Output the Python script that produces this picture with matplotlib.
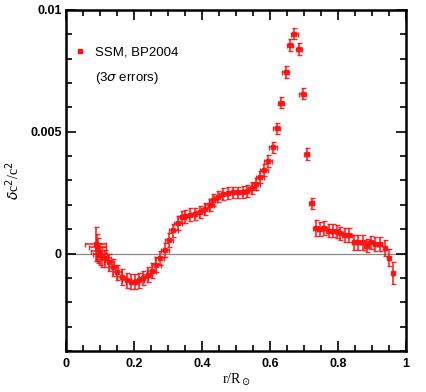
import numpy as np
import matplotlib
matplotlib.use('Agg')
import matplotlib.pyplot as plt
from matplotlib.lines import Line2D
from matplotlib.ticker import MultipleLocator, FixedFormatter, FixedLocator

# 반지름 (r/R_sun)
r = [0.087, 0.092, 0.095, 0.100, 0.105, 0.115, 0.127, 0.139, 0.151, 0.164,
     0.178, 0.190, 0.203, 0.216, 0.227, 0.240, 0.252, 0.265, 0.276, 0.291,
     0.303, 0.316, 0.330, 0.340, 0.350, 0.365, 0.379, 0.394, 0.409, 0.422,
     0.433, 0.446, 0.461, 0.475, 0.490, 0.505, 0.520, 0.533, 0.546, 0.559,
     0.570, 0.582, 0.595, 0.608, 0.620, 0.632, 0.646, 0.659, 0.671, 0.685,
     0.696, 0.708, 0.722, 0.734, 0.747, 0.759, 0.774, 0.786, 0.798, 0.806,
     0.821, 0.833, 0.848, 0.860, 0.873, 0.884, 0.897, 0.909, 0.924, 0.938,
     0.950, 0.963]

# delta c^2 / c^2 (단위 1e-3)
dc2 = [0.40, 0.26, 0.12, 0.00, -0.15, -0.20, -0.36, -0.56, -0.77, -0.97,
       -1.10, -1.15, -1.15, -1.10, -1.00, -0.87, -0.70, -0.46, -0.18, 0.14,
       0.56, 0.95, 1.26, 1.50, 1.53, 1.60, 1.63, 1.70, 1.83, 2.00,
       2.20, 2.34, 2.45, 2.49, 2.51, 2.51, 2.54, 2.58, 2.70, 2.86,
       3.13, 3.43, 3.80, 4.36, 5.14, 6.20, 7.46, 8.57, 9.03, 8.39,
       6.57, 4.09, 2.06, 1.05, 1.01, 1.05, 0.94, 0.94, 0.91, 0.83,
       0.76, 0.76, 0.46, 0.46, 0.46, 0.33, 0.46, 0.40, 0.40, 0.23,
       -0.18, -0.80]

# 오차 (3 sigma)
r_err = [0.030, 0.025, 0.022, 0.020, 0.018, 0.016, 0.015, 0.014, 0.013, 0.013,
         0.013, 0.013, 0.013, 0.013, 0.013, 0.013, 0.013, 0.013, 0.013, 0.013,
         0.013, 0.013, 0.012, 0.012, 0.012, 0.012, 0.012, 0.012, 0.012, 0.012,
         0.012, 0.012, 0.012, 0.012, 0.012, 0.012, 0.012, 0.012, 0.012, 0.012,
         0.012, 0.012, 0.012, 0.012, 0.010, 0.010, 0.010, 0.010, 0.010, 0.010,
         0.010, 0.008, 0.008, 0.008, 0.008, 0.008, 0.008, 0.008, 0.008, 0.008,
         0.008, 0.008, 0.008, 0.008, 0.008, 0.008, 0.008, 0.006, 0.006, 0.004,
         0.003, 0.003]
dc2_err = [0.70, 0.55, 0.50, 0.45, 0.40, 0.35, 0.35, 0.35, 0.32, 0.32,
           0.32, 0.32, 0.32, 0.32, 0.30, 0.30, 0.30, 0.30, 0.28, 0.28,
           0.28, 0.28, 0.28, 0.26, 0.26, 0.26, 0.26, 0.26, 0.24, 0.24,
           0.24, 0.24, 0.24, 0.24, 0.24, 0.24, 0.24, 0.24, 0.24, 0.24,
           0.24, 0.24, 0.24, 0.24, 0.24, 0.24, 0.24, 0.24, 0.24, 0.24,
           0.24, 0.24, 0.24, 0.32, 0.28, 0.28, 0.28, 0.28, 0.28, 0.28,
           0.28, 0.28, 0.32, 0.32, 0.32, 0.28, 0.28, 0.28, 0.28, 0.32,
           0.35, 0.45]

x_ticks = [0, 0.2, 0.4, 0.6, 0.8, 1.0]
x_labels = ['0', '0.2', '0.4', '0.6', '0.8', '1']
y_ticks = [0, 0.005, 0.01]
y_labels = ['0', '0.005', '0.01']

x = np.array(r)
y = np.array(dc2) * 1e-3
yerr = np.array(dc2_err) * 1e-3

fig = plt.figure(figsize=(4.27, 3.92), dpi=100)
ax = fig.add_axes([0.1546, 0.1046, 0.7963, 0.8699])

ax.axhline(0, color='#888888', lw=0.9, zorder=1)

ax.errorbar(x, y, xerr=r_err, yerr=yerr, fmt='s', color='#ff1010', ms=3,
            elinewidth=1.2, capsize=1.8, capthick=1.0, alpha=0.9, zorder=3)

ax.set_xlim(0, 1)
ax.set_ylim(-0.004, 0.01)

ax.xaxis.set_major_locator(FixedLocator(x_ticks))
ax.xaxis.set_major_formatter(FixedFormatter(x_labels))
ax.xaxis.set_minor_locator(MultipleLocator(0.05))
ax.yaxis.set_major_locator(FixedLocator(y_ticks))
ax.yaxis.set_major_formatter(FixedFormatter(y_labels))
ax.yaxis.set_minor_locator(MultipleLocator(0.001))

ax.tick_params(which='both', direction='in', top=True, right=True, width=1.2)
ax.tick_params(which='major', length=7, labelsize=9)
ax.tick_params(axis='x', which='major', pad=5)
ax.tick_params(axis='y', which='major', pad=3)
ax.tick_params(which='minor', length=4)
for lab in ax.get_xticklabels() + ax.get_yticklabels():
    lab.set_family('Liberation Sans')
    lab.set_fontweight('bold')
for s in ax.spines.values():
    s.set_linewidth(1.8)

ax.set_xlabel(r'r/R$_\odot$', family='Liberation Serif', fontsize=10, labelpad=1)
ax.set_ylabel(r'$\delta$c$^2$/c$^2$', family='Liberation Serif', fontsize=10, labelpad=6)

handle = Line2D([], [], ls='none', marker='s', ms=3.5, color='#ff1010')
ax.legend([handle], ['SSM, BP2004'], loc='upper left',
          bbox_to_anchor=(0.015, 0.91), frameon=False,
          handlelength=0.6, handletextpad=0.8, borderaxespad=0,
          prop={'family': 'Liberation Sans', 'size': 9.5})
ax.text(0.085, 0.80, r'(3$\sigma$ errors)', transform=ax.transAxes,
        family='Liberation Sans', fontsize=9.5, va='center')

fig.savefig('out.png', dpi=100)
